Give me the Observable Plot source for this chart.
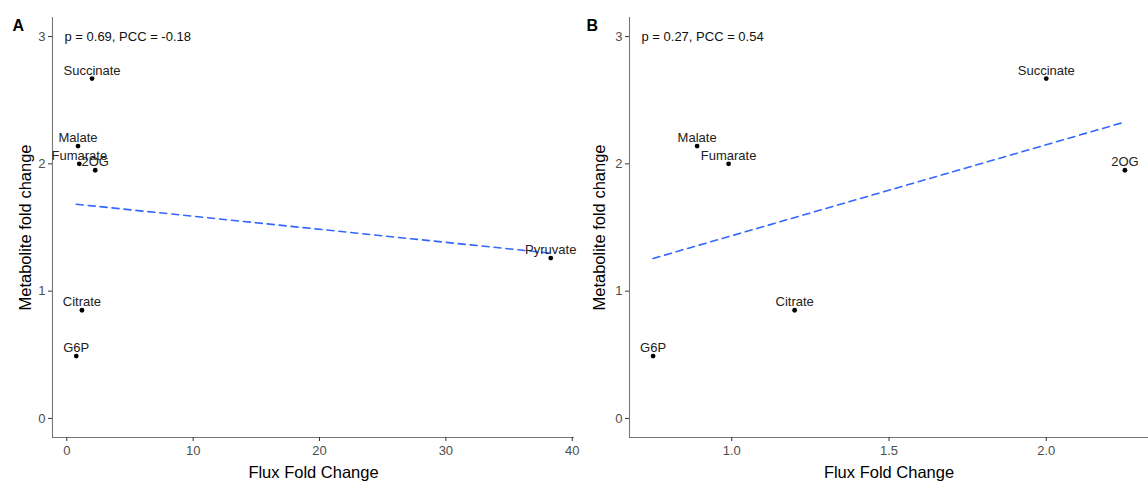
<!DOCTYPE html>
<html>
<head>
<meta charset="utf-8">
<script src="https://cdn.jsdelivr.net/npm/d3@7"></script>
<script src="https://cdn.jsdelivr.net/npm/@observablehq/plot@0.6"></script>
<style>
  html, body { margin: 0; padding: 0; background: #fff; }
  #wrap { display: flex; width: 1148px; height: 481px; }
  svg { font-family: "Liberation Sans", Arial, sans-serif; }
</style>
</head>
<body>
<div id="wrap"></div>
<script>
// ---- data ----
const metabolitesA = ["G6P", "Malate", "Fumarate", "Citrate", "Succinate", "2OG", "Pyruvate"];
const fluxA        = [0.75, 0.89, 0.99, 1.2, 2.0, 2.25, 38.3];
const metaboliteA  = [0.49, 2.14, 2.0, 0.85, 2.67, 1.95, 1.26];

const metabolitesB = ["G6P", "Malate", "Fumarate", "Citrate", "Succinate", "2OG"];
const fluxB        = [0.75, 0.89, 0.99, 1.2, 2.0, 2.25];
const metaboliteB  = [0.49, 2.14, 2.0, 0.85, 2.67, 1.95];

const panelLetters = ["A", "B"];
const statLabels   = ["p = 0.69, PCC = -0.18", "p = 0.27, PCC = 0.54"];
const xTicksA = [0, 10, 20, 30, 40];
const xTicksB = [1.0, 1.5, 2.0];
const yTicks  = [0, 1, 2, 3];
const xTitle = "Flux Fold Change";
const yTitle = "Metabolite fold change";

function rows(names, xs, ys) {
  return names.map((n, i) => ({name: n, x: xs[i], y: ys[i]}));
}

function panel({data, letter, stat, xTicks, xDomain, marginLeft, tickFmt}) {
  const yDomain = [-0.15, 3.15];
  return Plot.plot({
    width: 574,
    height: 481,
    marginLeft,
    marginRight: 0,
    marginTop: 17,
    marginBottom: 44,
    style: {fontFamily: "Liberation Sans, Arial, sans-serif", background: "transparent", overflow: "visible"},
    x: {domain: xDomain},
    y: {domain: yDomain},
    marks: [
      Plot.ruleX([xDomain[0]], {stroke: "#777", strokeWidth: 1.1}),
      Plot.ruleY([yDomain[0]], {stroke: "#777", strokeWidth: 1.1}),
      Plot.axisX({ticks: xTicks, tickSize: 4, tickPadding: 4, tickFormat: tickFmt, label: null,
                  fontSize: 13, color: "#4d4d4d", stroke: "#333"}),
      Plot.axisY({ticks: yTicks, tickSize: 4, tickPadding: 3, tickFormat: d3.format("d"), label: null,
                  fontSize: 13, color: "#4d4d4d", stroke: "#333"}),
      Plot.linearRegressionY(data, {x: "x", y: "y", stroke: "#3366FF", strokeWidth: 1.6,
                  strokeDasharray: "7,5", ci: 0}),
      Plot.dot(data, {x: "x", y: "y", r: 2.4, fill: "#000", stroke: "none"}),
      Plot.text(data, {x: "x", y: "y", text: "name", dy: -8, fontSize: 13, fill: "#222"}),
      Plot.text([stat], {y: [3], frameAnchor: "left", dx: 12, textAnchor: "start",
                  fontSize: 13, fill: "#111"}),
      Plot.text([letter], {frameAnchor: "top-left", dx: -(marginLeft - 12), dy: 2,
                  textAnchor: "start", lineAnchor: "top",
                  fontSize: 16, fontWeight: "bold", fill: "#000"}),
      Plot.text([xTitle], {frameAnchor: "bottom", dy: 40, textAnchor: "middle", lineAnchor: "bottom",
                  fontSize: 16.5, fill: "#000"}),
      Plot.text([yTitle], {frameAnchor: "left", dx: -(marginLeft - 25), rotate: -90,
                  textAnchor: "middle", lineAnchor: "middle",
                  fontSize: 16.5, fill: "#000"})
    ]
  });
}

const wrap = document.getElementById("wrap");
wrap.append(panel({
  data: rows(metabolitesA, fluxA, metaboliteA),
  letter: panelLetters[0], stat: statLabels[0],
  xTicks: xTicksA, xDomain: [-1.13, 40.18], marginLeft: 52, tickFmt: d3.format("d")
}));
wrap.append(panel({
  data: rows(metabolitesB, fluxB, metaboliteB),
  letter: panelLetters[1], stat: statLabels[1],
  xTicks: xTicksB, xDomain: [0.675, 2.325], marginLeft: 55, tickFmt: d3.format(".1f")
}));
</script>
</body>
</html>
